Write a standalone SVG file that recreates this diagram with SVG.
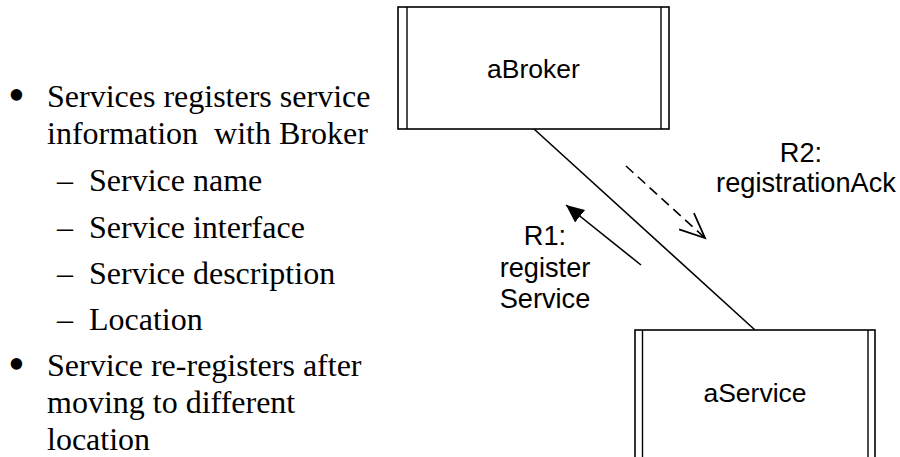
<svg xmlns="http://www.w3.org/2000/svg" width="900" height="457" viewBox="0 0 900 457">
  <style>
    .bullet { font-family: "Liberation Serif", "Times New Roman", serif; font-size: 32px; fill: #000; white-space: pre; }
    .dot { font-family: "Liberation Serif", "Times New Roman", serif; font-size: 48px; fill: #000; }
    .label { font-family: "Liberation Sans", Arial, sans-serif; font-size: 26.5px; fill: #000; }
    .msg { font-size: 27.2px; }
    .box { fill: #fff; stroke: #000; stroke-width: 1.6; }
    .bar { stroke: #000; stroke-width: 1.4; }
    .conn { stroke: #000; stroke-width: 1.6; fill: none; }
  </style>
  <defs>
    <marker id="filled" markerUnits="userSpaceOnUse" markerWidth="20" markerHeight="20" viewBox="0 0 20 20" refX="18" refY="10" orient="auto">
      <path d="M0,2 L18,10 L0,18 Z" fill="#000"/>
    </marker>
    <marker id="open" markerUnits="userSpaceOnUse" markerWidth="30" markerHeight="30" viewBox="0 0 30 30" refX="27" refY="15" orient="auto">
      <path d="M2,4 L27,15 L2,26" fill="none" stroke="#000" stroke-width="1.8"/>
    </marker>
  </defs>

  <rect width="900" height="457" fill="#fff"/>

  <!-- bulleted text -->
  <g id="notes">
    <g class="dot">
      <text x="8" y="111">•</text>
      <text x="8" y="380">•</text>
    </g>
    <g class="bullet">
      <text x="47" y="107">Services registers service</text>
      <text x="47" y="144" xml:space="preserve">information  with Broker</text>
      <text x="57" y="191">–</text>
      <text x="89" y="191">Service name</text>
      <text x="57" y="238">–</text>
      <text x="89" y="238">Service interface</text>
      <text x="57" y="284">–</text>
      <text x="89" y="284">Service description</text>
      <text x="57" y="330">–</text>
      <text x="89" y="330">Location</text>
      <text x="47" y="376">Service re-registers after</text>
      <text x="47" y="413">moving to different</text>
      <text x="47" y="450">location</text>
    </g>
  </g>

  <!-- connectors -->
  <g id="connectors">
    <line class="conn" x1="534" y1="129" x2="755" y2="330"/>
    <line class="conn" x1="641" y1="265" x2="566" y2="205" marker-end="url(#filled)"/>
    <line class="conn" x1="626" y1="166" x2="705" y2="238" stroke-dasharray="10,6" marker-end="url(#open)"/>
    <g class="label msg" text-anchor="middle">
      <text x="545" y="245">R1:</text>
      <text x="545" y="277">register</text>
      <text x="545" y="308">Service</text>
      <text x="801" y="162">R2:</text>
      <text x="806" y="192">registrationAck</text>
    </g>
  </g>

  <!-- broker object -->
  <g id="aBroker">
    <rect class="box" x="398" y="7" width="271" height="122"/>
    <line class="bar" x1="407" y1="7" x2="407" y2="129"/>
    <line class="bar" x1="661" y1="7" x2="661" y2="129"/>
    <text class="label" x="533.5" y="77.5" text-anchor="middle">aBroker</text>
  </g>

  <!-- service object -->
  <g id="aService">
    <rect class="box" x="635" y="330" width="240" height="140"/>
    <line class="bar" x1="642.5" y1="330" x2="642.5" y2="470"/>
    <line class="bar" x1="868" y1="330" x2="868" y2="470"/>
    <text class="label" x="755" y="402" text-anchor="middle">aService</text>
  </g>
</svg>
